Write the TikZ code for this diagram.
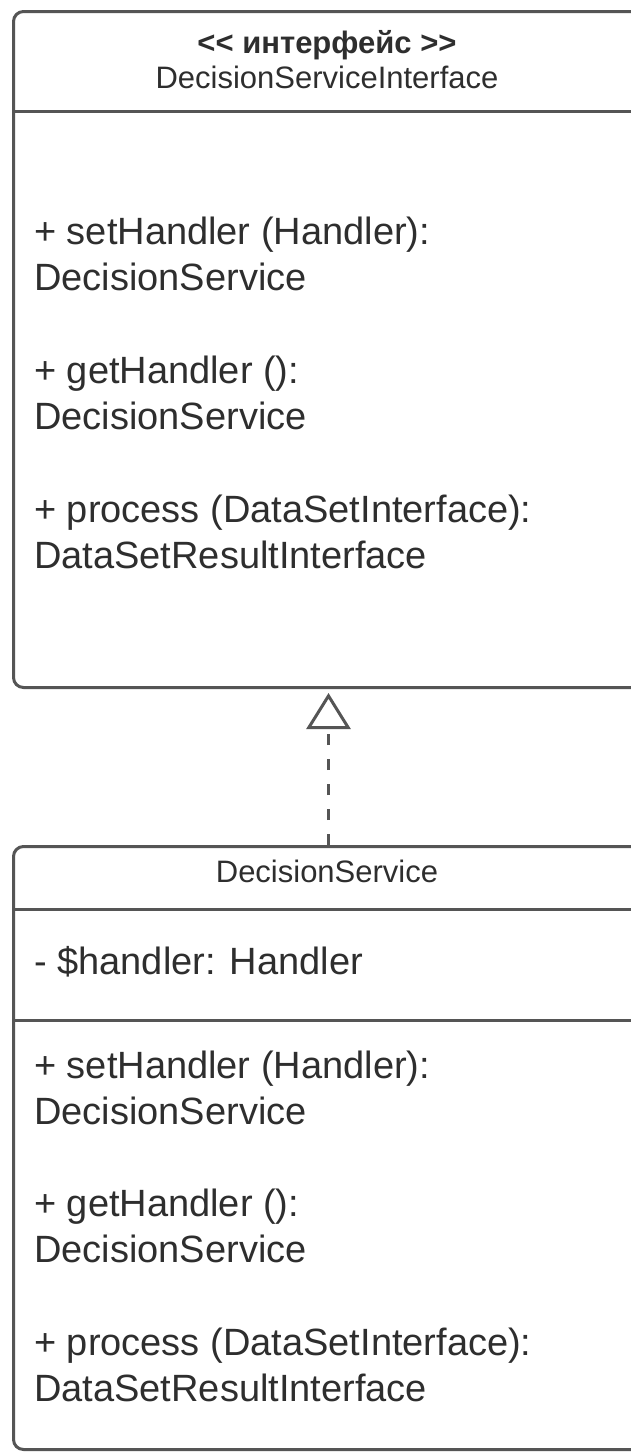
\documentclass[tikz,border=0pt]{standalone}
\usepackage{fontspec}
\setmainfont{Liberation Sans}
\usetikzlibrary{arrows.meta}
\definecolor{linec}{HTML}{555555}
\definecolor{textc}{HTML}{2E2E2E}
\tikzset{
  classbox/.style={draw=linec, line width=3pt, rounded corners=10pt, fill=white, inner sep=0pt, anchor=north west},
  sepline/.style={draw=linec, line width=3pt},
  bodytext/.style={anchor=base west, inner sep=0pt, text=textc, font=\fontsize{38}{46}\selectfont},
  headtext/.style={anchor=base, inner sep=0pt, text=textc, font=\fontsize{31}{36}\selectfont},
  headbold/.style={headtext, font=\fontsize{31}{36}\selectfont\bfseries},
  realize/.style={draw=linec, line width=3pt, dash pattern=on 11pt off 14pt, -{Triangle[open, width=44pt, length=36pt]}, shorten >=4pt},
}
\begin{document}
\begin{tikzpicture}[x=1pt,y=-1pt]
\useasboundingbox (0,0) rectangle (631,1452);
\clip (0,0) rectangle (631,1452);
\fill[white] (0,0) rectangle (631,1452);
% interface box
\node[classbox, minimum width=630pt, minimum height=676pt] (iface) at (12,10) {};
\draw[sepline] (iface.west |- 0,111) -- (iface.east |- 0,111);
\node[headbold] (ihs) at (327,53) {<\kern0pt< интерфейс >\kern0pt>};
\node[headtext] (ihn) at (327,88) {DecisionServiceInterface};
\node[bodytext] (i1) at (34,244) {+ setHandler (Handler):};
\node[bodytext] (i2) at (34,290) {DecisionService};
\node[bodytext] (i3) at (34,383) {+ getHandler ():};
\node[bodytext] (i4) at (34,429) {DecisionService};
\node[bodytext] (i5) at (34,522) {+ process (DataSetInterface):};
\node[bodytext] (i6) at (34,568) {DataSetResultInterface};
% service box
\node[classbox, minimum width=630pt, minimum height=603pt] (svc) at (12,845) {};
\draw[sepline] (svc.west |- 0,909) -- (svc.east |- 0,909);
\draw[sepline] (svc.west |- 0,1020) -- (svc.east |- 0,1020);
\node[headtext] (shn) at (327,882) {DecisionService};
\node[bodytext] (sa1) at (34,974) {- \$handler: Handler};
\node[bodytext] (s1) at (34,1078) {+ setHandler (Handler):};
\node[bodytext] (s2) at (34,1124) {DecisionService};
\node[bodytext] (s3) at (34,1216) {+ getHandler ():};
\node[bodytext] (s4) at (34,1262) {DecisionService};
\node[bodytext] (s5) at (34,1355) {+ process (DataSetInterface):};
\node[bodytext] (s6) at (34,1401) {DataSetResultInterface};
% realization
\draw[realize] (svc.north) -- (iface.south);
\end{tikzpicture}
\end{document}
